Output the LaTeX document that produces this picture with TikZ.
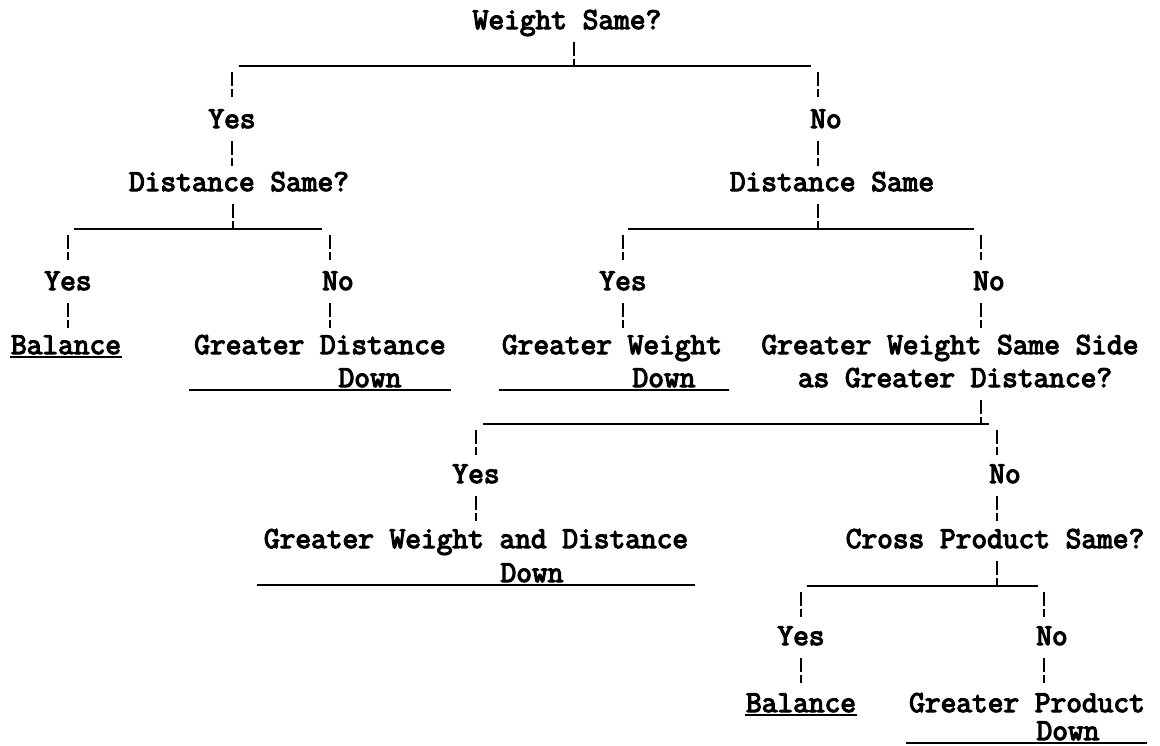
\documentclass[tikz,border=0pt]{standalone}
\usepackage{fontspec}
\newfontfamily\typefont{Latin Modern Mono}[FakeBold=4]
\usetikzlibrary{calc}
\begin{document}
\begin{tikzpicture}[x=1pt,y=-1pt,line width=2pt,
  lbl/.style={font=\typefont\fontsize{30.5}{36}\selectfont,inner sep=0pt,text height=20pt,text depth=6pt},
  tick/.style={line width=2.4pt,dash pattern=on 14pt off 3pt on 8pt off 200pt,shorten <=6pt}]
  \useasboundingbox (0,0) rectangle (1160,745);
  % typed labels
  \node[lbl] (w)    at (567,22)  {Weight Same?};
  \node[lbl] (y1)   at (232,121) {Yes};
  \node[lbl] (n1)   at (826,121) {No};
  \node[lbl] (d1)   at (239,184) {Distance Same?};
  \node[lbl] (d2)   at (832,184) {Distance Same};
  \node[lbl] (y2)   at (68,283)  {Yes};
  \node[lbl] (n2)   at (338,283) {No};
  \node[lbl] (y3)   at (623,283) {Yes};
  \node[lbl] (n3)   at (989,283) {No};
  \node[lbl] (bal1) at (66,347)  {Balance};
  \node[lbl] (gd)   at (320,347) {Greater Distance};
  \node[lbl] (gdd)  at (370,380) {Down};
  \node[lbl] (gw)   at (612,347) {Greater Weight};
  \node[lbl] (gwd)  at (664,380) {Down};
  \node[lbl] (gs)   at (950,347) {Greater Weight Same Side};
  \node[lbl] (gs2)  at (955,380) {as Greater Distance?};
  \node[lbl] (y4)   at (476,476) {Yes};
  \node[lbl] (n4)   at (1005,476) {No};
  \node[lbl] (gwa)  at (476,541) {Greater Weight and Distance};
  \node[lbl] (gwad) at (532,575) {Down};
  \node[lbl] (cp)   at (995,541) {Cross Product Same?};
  \node[lbl] (y5)   at (801,638) {Yes};
  \node[lbl] (n5)   at (1052,638) {No};
  \node[lbl] (bal2) at (801,705) {Balance};
  \node[lbl] (gp)   at (1027,705) {Greater Product};
  \node[lbl] (gpd)  at (1068,733) {Down};
  % bars
  \coordinate (j1) at (574,66);  \coordinate (b1w) at (239,66);  \coordinate (b1e) at (811,66);
  \coordinate (j2) at (233,229); \coordinate (b2w) at (74,229);  \coordinate (b2e) at (322,229);
  \coordinate (j3) at (818,229); \coordinate (b3w) at (628,229); \coordinate (b3e) at (974,229);
  \coordinate (j4) at (981,424); \coordinate (b4w) at (483,424); \coordinate (b4e) at (989,424);
  \coordinate (j5) at (997,586); \coordinate (b5w) at (807,586); \coordinate (b5e) at (1038,586);
  \draw (b1w) -- (b1e);
  \draw (b2w) -- (b2e);
  \draw (b3w) -- (b3e);
  \draw (b4w) -- (b4e);
  \draw (b5w) -- (b5e);
  % ticks
  \draw[tick] (w.south -| j1) -- (j1);
  \draw[tick] (y1 |- b1w) -- (y1.north);
  \draw[tick] (y1.south) -- (y1 |- d1.north);
  \draw[tick] ($(n1 |- b1e)+(-8,0)$) -- ($(n1.north)+(-8,0)$);
  \draw[tick] ($(n1.south)+(-8,0)$) -- ($(n1 |- d2.north)+(-8,0)$);
  \draw[tick] (d1.south -| j2) -- (j2);
  \draw[tick] (y2 |- b2w) -- (y2.north);
  \draw[tick] (y2.south) -- (y2 |- bal1.north);
  \draw[tick] ($(n2 |- b2e)+(-8,0)$) -- ($(n2.north)+(-8,0)$);
  \draw[tick] ($(n2.south)+(-8,0)$) -- ($(n2 |- gd.north)+(-8,0)$);
  \draw[tick] (d2.south -| j3) -- (j3);
  \draw[tick] (y3 |- b3w) -- (y3.north);
  \draw[tick] (y3.south) -- (y3 |- gw.north);
  \draw[tick] ($(n3 |- b3e)+(-8,0)$) -- ($(n3.north)+(-8,0)$);
  \draw[tick] ($(n3.south)+(-8,0)$) -- ($(n3 |- gs.north)+(-8,0)$);
  \draw[tick] (gs2.south -| j4) -- (j4);
  \draw[tick] (y4 |- b4w) -- (y4.north);
  \draw[tick] (y4.south) -- (y4 |- gwa.north);
  \draw[tick] ($(n4 |- b4e)+(-8,0)$) -- ($(n4.north)+(-8,0)$);
  \draw[tick] ($(n4.south)+(-8,0)$) -- ($(n4 |- cp.north)+(-8,0)$);
  \draw[tick] (cp.south -| j5) -- (j5);
  \draw[tick] (y5 |- b5w) -- (y5.north);
  \draw[tick] (y5.south) -- (y5 |- bal2.north);
  \draw[tick] ($(n5 |- b5e)+(-8,0)$) -- ($(n5.north)+(-8,0)$);
  \draw[tick] ($(n5.south)+(-8,0)$) -- ($(n5 |- gp.north)+(-8,0)$);
  % underlines
  \draw ($(bal1.base west)+(0,3)$) -- ($(bal1.base east)+(0,3)$);
  \draw ($(bal2.base west)+(0,3)$) -- ($(bal2.base east)+(0,3)$);
  \draw ($(gd.west |- gdd.base)+(-4,3)$) -- ($(gd.east |- gdd.base)+(4,3)$);
  \draw ($(gw.west |- gwd.base)+(-2,3)$) -- ($(gw.east |- gwd.base)+(6,3)$);
  \draw ($(gwa.west |- gwad.base)+(-6,3)$) -- ($(gwa.east |- gwad.base)+(6,3)$);
  \draw ($(gp.west |- gpd.base)+(-2,3)$) -- ($(gp.east |- gpd.base)+(1,3)$);
\end{tikzpicture}
\end{document}
